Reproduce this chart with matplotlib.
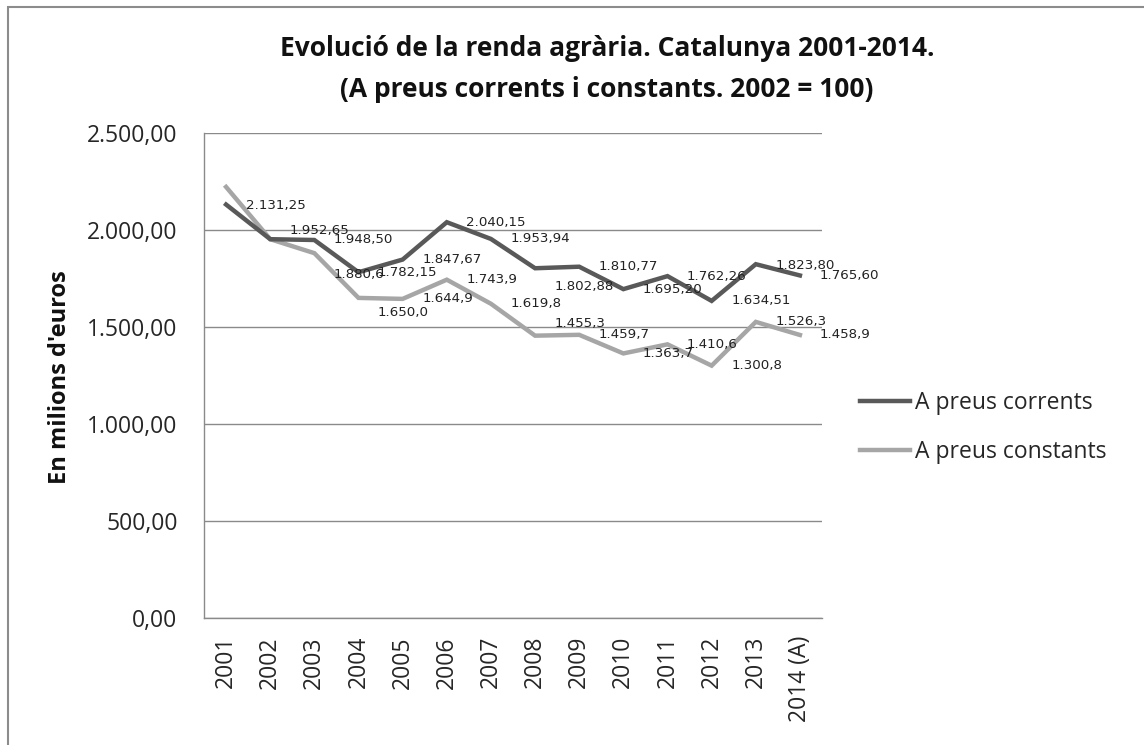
import matplotlib
matplotlib.use("Agg")
import matplotlib.pyplot as plt
from matplotlib.patches import Rectangle
from matplotlib.ticker import FuncFormatter

# Data
years = ["2001", "2002", "2003", "2004", "2005", "2006", "2007",
         "2008", "2009", "2010", "2011", "2012", "2013", "2014 (A)"]
corrents = [2131.25, 1952.65, 1948.50, 1782.15, 1847.67, 2040.15, 1953.94,
            1802.88, 1810.77, 1695.20, 1762.26, 1634.51, 1823.80, 1765.60]
constants = [2222.0, 1952.65, 1880.6, 1650.0, 1644.9, 1743.9, 1619.8,
             1455.3, 1459.7, 1363.7, 1410.6, 1300.8, 1526.3, 1458.9]
# which constant-price points carry a label (first two have none)
constants_labelled = [False, False] + [True] * 12

# vertical nudges of data labels, pixels downward (Excel label placement)
corrents_dy = [1, -9, 0, 0, 0, 0, 0, 18, 0, 0, 0, 0, 1, 0]
constants_dy = [0, 0, 21, 15, 0, 0, 0, -12, 0, 0, 0, 0, 0, 0]


def ca_fmt(v, dec):
    s = f"{v:,.{dec}f}"
    return s.replace(",", "X").replace(".", ",").replace("X", ".")


DPI = 100
W, H = 1144, 745
fig = plt.figure(figsize=(W / DPI, H / DPI), dpi=DPI)
px = 72.0 / DPI  # pixels -> points

# outer chart border (only left/top visible in the reference)
fig.patches.append(Rectangle((8 / W, -0.05), 1.2, 1 - 7 / H + 0.05,
                             transform=fig.transFigure, fill=False,
                             edgecolor="#8c8c8c", linewidth=1.5))

ax = fig.add_axes([204 / W, 1 - 618 / H, (822 - 204) / W, (618 - 133) / H])

x = list(range(len(years)))
ax.plot(x, corrents, color="#595959", lw=3.2, solid_joinstyle="miter",
        label="A preus corrents", zorder=3)
ax.plot(x, constants, color="#a6a6a6", lw=3.2, solid_joinstyle="miter",
        label="A preus constants", zorder=2)

lab_font = dict(family="DejaVu Sans", size=9.6, color="#222222")
for i, v in enumerate(corrents):
    ax.annotate(ca_fmt(v, 2), (i, v), xytext=(14, -corrents_dy[i] * px),
                textcoords="offset points", ha="left", va="center",
                annotation_clip=False, zorder=5, **lab_font)
for i, v in enumerate(constants):
    if constants_labelled[i]:
        ax.annotate(ca_fmt(v, 1), (i, v), xytext=(14, -constants_dy[i] * px),
                    textcoords="offset points", ha="left", va="center",
                    annotation_clip=False, zorder=5, **lab_font)

ax.set_xlim(-0.5, len(years) - 0.5)
ax.set_ylim(0, 2500)
ax.set_yticks([0, 500, 1000, 1500, 2000, 2500])
ax.yaxis.set_major_formatter(FuncFormatter(lambda v, p: ca_fmt(v, 2)))
ax.set_xticks(x)
ax.set_xticklabels(years, rotation=90)
ax.grid(axis="y", color="#8a8a8a", lw=1)
ax.set_axisbelow(True)
for s in ["top", "right"]:
    ax.spines[s].set_visible(False)
for s in ["left", "bottom"]:
    ax.spines[s].set_color("#8a8a8a")
    ax.spines[s].set_linewidth(1)
ax.tick_params(axis="both", length=0, labelsize=16.5, labelcolor="#262626")
ax.tick_params(axis="y", pad=19)
ax.tick_params(axis="x", pad=13)
for t in ax.get_xticklabels() + ax.get_yticklabels():
    t.set_family("Open Sans")

fig.text(60 / W, 1 - 377 / H, "En milions d'euros", rotation=90,
         ha="center", va="center", family="Open Sans", weight="bold",
         size=17, color="#111111")

fig.text(607 / W, 1 - 69 / H,
         "Evolució de la renda agrària. Catalunya 2001-2014.\n"
         "(A preus corrents i constants. 2002 = 100)",
         ha="center", va="center", family="Open Sans", weight="bold",
         size=19, color="#111111", linespacing=1.7)

leg = ax.legend(loc="upper left", bbox_to_anchor=(860 / W, 1 - 391 / H),
                bbox_transform=fig.transFigure, frameon=False,
                prop=dict(family="Open Sans", size=16.5),
                handlelength=2.2, handletextpad=0.2, labelspacing=1.08,
                borderaxespad=0, borderpad=0)
for t in leg.get_texts():
    t.set_color("#262626")

fig.savefig("out.png", dpi=DPI)
